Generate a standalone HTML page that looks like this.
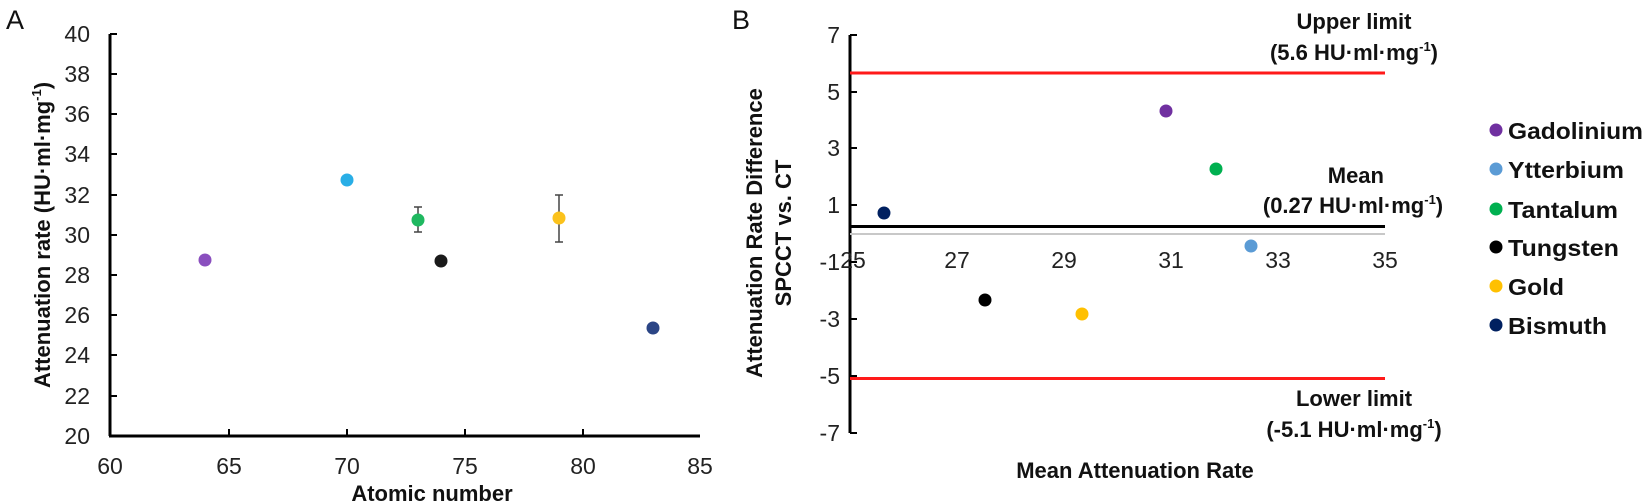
<!DOCTYPE html>
<html><head><meta charset="utf-8"><style>
html,body{margin:0;padding:0;background:#fff;}
svg{display:block;font-family:"Liberation Sans",Arial,sans-serif;}
.t{font-size:23px;fill:#222;}
.b{font-size:22px;font-weight:bold;fill:#111;}
</style></head><body>
<svg width="1650" height="504" viewBox="0 0 1650 504">
<!-- Panel A -->
<text x="6" y="29" font-size="27" fill="#111">A</text>
<g stroke="#000" stroke-width="3" fill="none">
<line x1="110" y1="34" x2="110" y2="436"/>
<line x1="109" y1="436" x2="700" y2="436"/>
</g>
<g stroke="#000" stroke-width="2">
<line x1="110" y1="34" x2="117" y2="34"/><line x1="110" y1="74" x2="117" y2="74"/>
<line x1="110" y1="114" x2="117" y2="114"/><line x1="110" y1="154" x2="117" y2="154"/>
<line x1="110" y1="195" x2="117" y2="195"/><line x1="110" y1="235" x2="117" y2="235"/>
<line x1="110" y1="275" x2="117" y2="275"/><line x1="110" y1="315" x2="117" y2="315"/>
<line x1="110" y1="355" x2="117" y2="355"/><line x1="110" y1="396" x2="117" y2="396"/>
<line x1="229" y1="436" x2="229" y2="429"/><line x1="347" y1="436" x2="347" y2="429"/>
<line x1="465" y1="436" x2="465" y2="429"/><line x1="583" y1="436" x2="583" y2="429"/>
</g>
<g class="t" text-anchor="end">
<text x="90" y="42">40</text><text x="90" y="82">38</text><text x="90" y="122">36</text>
<text x="90" y="162">34</text><text x="90" y="203">32</text><text x="90" y="243">30</text>
<text x="90" y="283">28</text><text x="90" y="323">26</text><text x="90" y="363">24</text>
<text x="90" y="404">22</text><text x="90" y="444">20</text>
</g>
<g class="t" text-anchor="middle">
<text x="110" y="474">60</text><text x="229" y="474">65</text><text x="347" y="474">70</text>
<text x="465" y="474">75</text><text x="583" y="474">80</text><text x="700" y="474">85</text>
</g>
<text class="b" x="432" y="501" text-anchor="middle">Atomic number</text>
<text class="b" transform="translate(50,235) rotate(-90)" text-anchor="middle">Attenuation rate (HU·ml·mg<tspan font-size="13" dy="-9">-1</tspan><tspan dy="9">)</tspan></text>
<g stroke="#444" stroke-width="1.5">
<line x1="418" y1="207" x2="418" y2="232"/><line x1="414" y1="207" x2="422" y2="207"/><line x1="414" y1="232" x2="422" y2="232"/>
<line x1="559" y1="195" x2="559" y2="242"/><line x1="555" y1="195" x2="563" y2="195"/><line x1="555" y1="242" x2="563" y2="242"/>
</g>
<circle cx="205" cy="260" r="6.5" fill="#8a4fbe"/>
<circle cx="347" cy="180" r="6.5" fill="#29aee6"/>
<circle cx="418" cy="220" r="6.5" fill="#1fb860"/>
<circle cx="441" cy="261" r="6.5" fill="#1a1a1a"/>
<circle cx="559" cy="218" r="6.5" fill="#fbc21c"/>
<circle cx="653" cy="328" r="6.5" fill="#2b4585"/>

<!-- Panel B -->
<text x="732" y="29" font-size="27" fill="#111">B</text>
<line x1="850" y1="35" x2="850" y2="433" stroke="#000" stroke-width="3"/>
<g stroke="#000" stroke-width="2">
<line x1="850" y1="35" x2="857" y2="35"/><line x1="850" y1="92" x2="857" y2="92"/>
<line x1="850" y1="148" x2="857" y2="148"/><line x1="850" y1="205" x2="857" y2="205"/>
<line x1="850" y1="262" x2="857" y2="262"/><line x1="850" y1="319" x2="857" y2="319"/>
<line x1="850" y1="376" x2="857" y2="376"/><line x1="850" y1="433" x2="857" y2="433"/>
</g>
<line x1="850" y1="234" x2="1385" y2="234" stroke="#c8c8c8" stroke-width="2"/>
<line x1="850" y1="226.5" x2="1385" y2="226.5" stroke="#000" stroke-width="3"/>
<line x1="850" y1="73" x2="1385" y2="73" stroke="#ff1a1a" stroke-width="3"/>
<line x1="850" y1="378.5" x2="1385" y2="378.5" stroke="#ff1a1a" stroke-width="3"/>
<g class="t" text-anchor="end">
<text x="840" y="43">7</text><text x="840" y="100">5</text><text x="840" y="156">3</text>
<text x="840" y="213">1</text><text x="840" y="270">-1</text><text x="840" y="327">-3</text>
<text x="840" y="384">-5</text><text x="840" y="441">-7</text>
</g>
<g class="t" text-anchor="middle">
<text x="853" y="268">25</text><text x="957" y="268">27</text><text x="1064" y="268">29</text>
<text x="1171" y="268">31</text><text x="1278" y="268">33</text><text x="1385" y="268">35</text>
</g>
<text class="b" transform="translate(762,233) rotate(-90)" text-anchor="middle">Attenuation Rate Difference</text>
<text class="b" transform="translate(791,233) rotate(-90)" text-anchor="middle">SPCCT vs. CT</text>
<text class="b" x="1135" y="478" text-anchor="middle">Mean Attenuation Rate</text>
<g class="b" text-anchor="middle">
<text x="1354" y="29">Upper limit</text>
<text x="1354" y="60">(5.6 HU·ml·mg<tspan font-size="13" dy="-9">-1</tspan><tspan dy="9">)</tspan></text>
<text x="1384" y="183" text-anchor="end">Mean</text>
<text x="1353" y="213">(0.27 HU·ml·mg<tspan font-size="13" dy="-9">-1</tspan><tspan dy="9">)</tspan></text>
<text x="1354" y="406">Lower limit</text>
<text x="1354" y="437">(-5.1 HU·ml·mg<tspan font-size="13" dy="-9">-1</tspan><tspan dy="9">)</tspan></text>
</g>
<circle cx="884" cy="213" r="6.5" fill="#002060"/>
<circle cx="985" cy="300" r="6.5" fill="#000"/>
<circle cx="1082" cy="314" r="6.5" fill="#ffc000"/>
<circle cx="1166" cy="111" r="6.5" fill="#7030a0"/>
<circle cx="1216" cy="169" r="6.5" fill="#00b050"/>
<circle cx="1251" cy="246" r="6.5" fill="#5b9bd5"/>
<!-- Legend -->
<circle cx="1496" cy="130" r="6.5" fill="#7030a0"/>
<circle cx="1496" cy="169" r="6.5" fill="#5b9bd5"/>
<circle cx="1496" cy="209" r="6.5" fill="#00b050"/>
<circle cx="1496" cy="247" r="6.5" fill="#000"/>
<circle cx="1496" cy="286" r="6.5" fill="#ffc000"/>
<circle cx="1496" cy="325" r="6.5" fill="#002060"/>
<g class="b" font-size="23" style="font-size:23px">
<text x="1508" y="139" textLength="135" lengthAdjust="spacingAndGlyphs">Gadolinium</text>
<text x="1508" y="178" textLength="116" lengthAdjust="spacingAndGlyphs">Ytterbium</text>
<text x="1508" y="218" textLength="110" lengthAdjust="spacingAndGlyphs">Tantalum</text>
<text x="1508" y="256" textLength="111" lengthAdjust="spacingAndGlyphs">Tungsten</text>
<text x="1508" y="295" textLength="56" lengthAdjust="spacingAndGlyphs">Gold</text>
<text x="1508" y="334" textLength="99" lengthAdjust="spacingAndGlyphs">Bismuth</text>
</g>
</svg>
</body></html>
